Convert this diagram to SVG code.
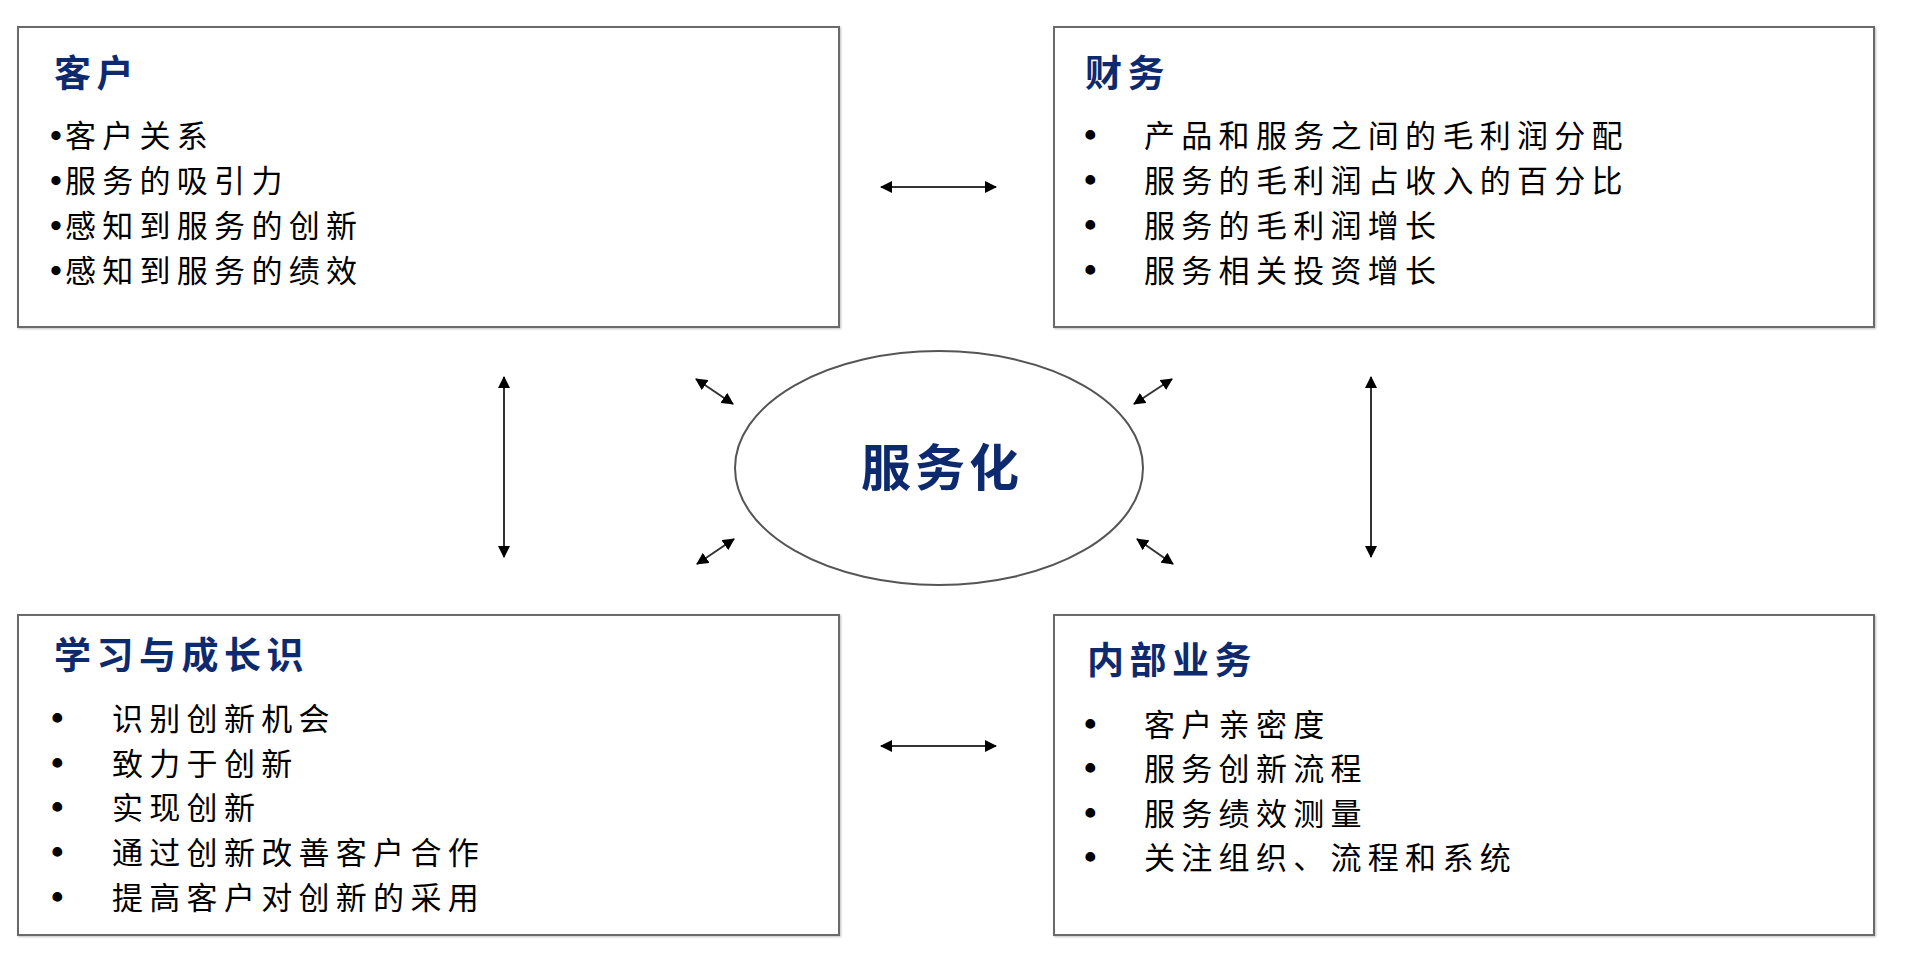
<svg xmlns="http://www.w3.org/2000/svg" width="1912" height="968" viewBox="0 0 1912 968">
<defs>
<marker id="ah" viewBox="0 0 12 12" refX="11" refY="6" markerWidth="12" markerHeight="12" markerUnits="userSpaceOnUse" orient="auto-start-reverse">
<path d="M0,0 L12,6 L0,12 z" fill="#000"/>
</marker>
<filter id="sh" x="-5%" y="-5%" width="110%" height="110%">
<feDropShadow dx="1" dy="1" stdDeviation="1" flood-color="#000" flood-opacity="0.25"/>
</filter>
</defs>
<style>
.box{fill:#fff;stroke:#6a6a6a;stroke-width:2}
.title{font-family:"Liberation Serif","Noto Sans CJK SC",serif;font-size:37px;font-weight:bold;fill:#0d2a6e;letter-spacing:5.5px}
.item{font-family:"Liberation Serif","Noto Sans CJK SC",serif;font-size:31px;fill:#000;letter-spacing:6.3px}
.bul{font-family:"Liberation Serif",serif;font-size:36px;font-weight:bold;fill:#000}
.b{font-family:"Liberation Serif",serif;font-size:34px;font-weight:bold;letter-spacing:0}
.conn{stroke:#333;stroke-width:2;fill:none;marker-start:url(#ah);marker-end:url(#ah)}
.center{font-family:"Liberation Serif","Noto Sans CJK SC",serif;font-size:50px;font-weight:bold;fill:#0d2a6e;letter-spacing:4px}
</style>
<rect width="1912" height="968" fill="#fff"/>

<g id="customer">
<rect class="box" x="18" y="27" width="821" height="300" filter="url(#sh)"/>
<text class="title" x="54" y="87">客户</text>
<text class="item" x="50" y="147"><tspan class="b">•</tspan><tspan dx="3">客户关系</tspan></text>
<text class="item" x="50" y="192"><tspan class="b">•</tspan><tspan dx="3">服务的吸引力</tspan></text>
<text class="item" x="50" y="237"><tspan class="b">•</tspan><tspan dx="3">感知到服务的创新</tspan></text>
<text class="item" x="50" y="282"><tspan class="b">•</tspan><tspan dx="3">感知到服务的绩效</tspan></text>
</g>

<g id="finance">
<rect class="box" x="1054" y="27" width="820" height="300" filter="url(#sh)"/>
<text class="title" x="1085" y="87">财务</text>
<text class="bul" x="1084" y="147">•</text><text class="item" x="1144" y="147">产品和服务之间的毛利润分配</text>
<text class="bul" x="1084" y="192">•</text><text class="item" x="1144" y="192">服务的毛利润占收入的百分比</text>
<text class="bul" x="1084" y="237">•</text><text class="item" x="1144" y="237">服务的毛利润增长</text>
<text class="bul" x="1084" y="282">•</text><text class="item" x="1144" y="282">服务相关投资增长</text>
</g>

<g id="learning">
<rect class="box" x="18" y="615" width="821" height="320" filter="url(#sh)"/>
<text class="title" x="54" y="669">学习与成长识</text>
<text class="bul" x="51" y="730">•</text><text class="item" x="112" y="730">识别创新机会</text>
<text class="bul" x="51" y="775">•</text><text class="item" x="112" y="775">致力于创新</text>
<text class="bul" x="51" y="819">•</text><text class="item" x="112" y="819">实现创新</text>
<text class="bul" x="51" y="864">•</text><text class="item" x="112" y="864">通过创新改善客户合作</text>
<text class="bul" x="51" y="909">•</text><text class="item" x="112" y="909">提高客户对创新的采用</text>
</g>

<g id="internal">
<rect class="box" x="1054" y="615" width="820" height="320" filter="url(#sh)"/>
<text class="title" x="1087" y="674">内部业务</text>
<text class="bul" x="1084" y="736">•</text><text class="item" x="1144" y="736">客户亲密度</text>
<text class="bul" x="1084" y="780">•</text><text class="item" x="1144" y="780">服务创新流程</text>
<text class="bul" x="1084" y="825">•</text><text class="item" x="1144" y="825">服务绩效测量</text>
<text class="bul" x="1084" y="869">•</text><text class="item" x="1144" y="869">关注组织、流程和系统</text>
</g>

<g id="servitization">
<ellipse cx="939" cy="468" rx="204" ry="117" fill="#fff" stroke="#555" stroke-width="2"/>
<text class="center" x="942" y="486" text-anchor="middle">服务化</text>
</g>

<g id="connectors">
<line class="conn" x1="881" y1="187" x2="996" y2="187"/>
<line class="conn" x1="881" y1="746" x2="996" y2="746"/>
<line class="conn" x1="504" y1="377" x2="504" y2="557"/>
<line class="conn" x1="1371" y1="377" x2="1371" y2="557"/>
<line class="conn" x1="696" y1="379" x2="733" y2="404"/>
<line class="conn" x1="1172" y1="379" x2="1134" y2="404"/>
<line class="conn" x1="697" y1="564" x2="734" y2="539"/>
<line class="conn" x1="1137" y1="539" x2="1173" y2="564"/>
</g>
</svg>
